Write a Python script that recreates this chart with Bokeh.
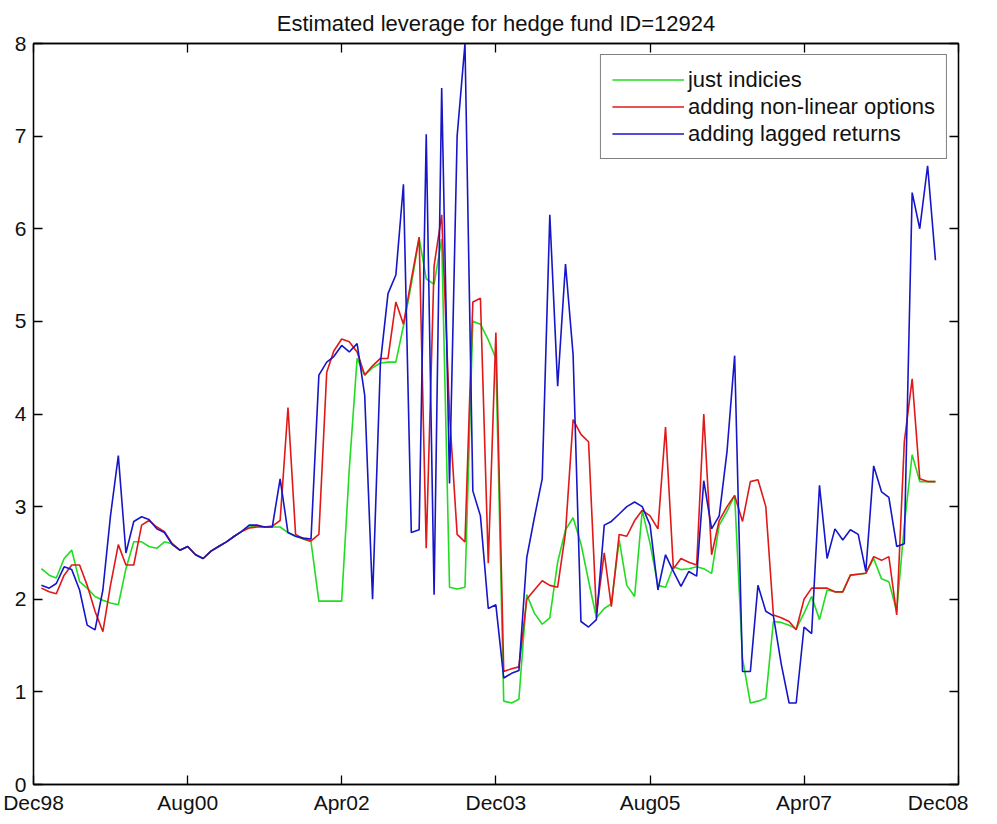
from datetime import datetime
from bokeh.plotting import figure
from bokeh.models import (Range1d, FixedTicker, DatetimeTickFormatter, DatetimeAxis,
                          LinearAxis, Legend, LegendItem, ColumnDataSource)
from bokeh.embed import file_html
from bokeh.resources import INLINE

# ---------------- data (monthly, Jan 1999 .. Sep 2008) ----------------
start_year, start_month, n_months = 1999, 1, 117
months = [datetime(start_year + (start_month - 1 + i) // 12, (start_month - 1 + i) % 12 + 1, 1)
          for i in range(n_months)]

just_indicies = [
    2.33, 2.26, 2.23, 2.44, 2.53, 2.19, 2.12, 2.03, 1.99, 1.96, 1.94, 2.33,
    2.62, 2.62, 2.57, 2.55, 2.62, 2.60, 2.53, 2.57, 2.48, 2.44, 2.52, 2.57,
    2.62, 2.68, 2.73, 2.78, 2.79, 2.78, 2.78, 2.78, 2.72, 2.68, 2.65, 2.62,
    1.98, 1.98, 1.98, 1.98, 3.40, 4.60, 4.42, 4.50, 4.55, 4.56, 4.56, 4.95,
    5.40, 5.90, 5.46, 5.40, 5.89, 2.13, 2.11, 2.13, 5.00, 4.97, 4.80, 4.60,
    0.90, 0.88, 0.92, 2.05, 1.85, 1.73, 1.80, 2.40, 2.75, 2.88, 2.60, 2.20,
    1.80, 1.90, 1.95, 2.64, 2.15, 2.03, 2.96, 2.60, 2.15, 2.13, 2.35, 2.32,
    2.33, 2.35, 2.33, 2.28, 2.80, 2.95, 3.12, 1.36, 0.88, 0.90, 0.93, 1.76,
    1.75, 1.72, 1.68, 1.85, 2.03, 1.78, 2.10, 2.08, 2.08, 2.26, 2.27, 2.28,
    2.44, 2.22, 2.19, 1.87, 2.80, 3.56, 3.27, 3.27, 3.27,
]
nonlinear_options = [
    2.12, 2.08, 2.06, 2.26, 2.37, 2.37, 2.15, 1.87, 1.65, 2.15, 2.59, 2.37,
    2.37, 2.80, 2.85, 2.78, 2.73, 2.60, 2.53, 2.57, 2.48, 2.44, 2.52, 2.57,
    2.62, 2.68, 2.73, 2.77, 2.78, 2.78, 2.79, 2.85, 4.07, 2.70, 2.65, 2.63,
    2.70, 4.45, 4.68, 4.81, 4.78, 4.67, 4.42, 4.52, 4.60, 4.60, 5.21, 4.97,
    5.45, 5.91, 2.55, 5.60, 6.15, 4.00, 2.70, 2.62, 5.21, 5.25, 2.39, 4.88,
    1.22, 1.25, 1.27, 2.00, 2.10, 2.20, 2.15, 2.13, 2.72, 3.94, 3.78, 3.70,
    1.85, 2.50, 1.92, 2.70, 2.68, 2.85, 2.96, 2.90, 2.76, 3.86, 2.33, 2.44,
    2.40, 2.37, 4.00, 2.48, 2.85, 3.00, 3.12, 2.84, 3.27, 3.29, 3.00, 1.83,
    1.80, 1.76, 1.67, 2.00, 2.12, 2.12, 2.12, 2.08, 2.08, 2.26, 2.27, 2.28,
    2.46, 2.42, 2.46, 1.83, 3.70, 4.38, 3.30, 3.27, 3.27,
]
lagged_returns = [
    2.15, 2.12, 2.17, 2.35, 2.32, 2.10, 1.72, 1.67, 2.10, 2.90, 3.55, 2.50,
    2.84, 2.89, 2.86, 2.76, 2.72, 2.59, 2.53, 2.57, 2.48, 2.44, 2.52, 2.57,
    2.62, 2.68, 2.73, 2.80, 2.80, 2.78, 2.78, 3.30, 2.72, 2.68, 2.66, 2.65,
    4.42, 4.56, 4.62, 4.74, 4.67, 4.76, 4.20, 2.00, 4.55, 5.30, 5.50, 6.48,
    2.72, 2.75, 7.02, 2.05, 7.52, 3.25, 7.00, 8.00, 3.17, 2.90, 1.90, 1.94,
    1.15, 1.20, 1.23, 2.45, 2.88, 3.30, 6.15, 4.30, 5.62, 4.64, 1.76, 1.70,
    1.78, 2.80, 2.84, 2.92, 3.00, 3.05, 3.00, 2.80, 2.10, 2.48, 2.30, 2.14,
    2.30, 2.25, 3.28, 2.76, 2.90, 3.60, 4.63, 1.22, 1.22, 2.15, 1.87, 1.82,
    1.30, 0.88, 0.88, 1.70, 1.63, 3.23, 2.44, 2.76, 2.64, 2.75, 2.70, 2.30,
    3.44, 3.16, 3.10, 2.57, 2.60, 6.39, 6.00, 6.68, 5.66,
]

series_names = ["just indicies", "adding non-linear options", "adding lagged returns"]
series_colors = ["#22dc22", "#e01818", "#1616c8"]

tick_dates = [datetime(1998, 12, 1), datetime(2000, 8, 1), datetime(2002, 4, 1),
              datetime(2003, 12, 1), datetime(2005, 8, 1), datetime(2007, 4, 1),
              datetime(2008, 12, 1)]
y_ticks = [0, 1, 2, 3, 4, 5, 6, 7, 8]

title_text = "Estimated leverage for hedge fund ID=12924"

# ---------------- figure ----------------
FONT = "Liberation Sans"
TICK_FS = "21px"
TEXT_FS = "22px"

def ms(d):
    return (d - datetime(1970, 1, 1)).total_seconds() * 1000.0

p = figure(width=968, height=816, output_backend="svg", toolbar_location=None,
           x_axis_type="datetime",
           x_range=Range1d(tick_dates[0], tick_dates[-1]),
           y_range=Range1d(0, 8),
           min_border_left=33, min_border_right=10, min_border_top=43,
           min_border_bottom=31)

p.background_fill_color = "white"
p.border_fill_color = "white"
p.outline_line_color = "black"
p.outline_line_width = 1.3
p.grid.visible = False

p.title.text = title_text
p.title.align = "center"
p.title.text_font = FONT
p.title.text_font_size = TEXT_FS
p.title.text_font_style = "normal"
p.title.text_color = "#111111"
p.title.standoff = 15

xticker = FixedTicker(ticks=[ms(d) for d in tick_dates])
yticker = FixedTicker(ticks=y_ticks)
fmt = DatetimeTickFormatter(days="%b%y", months="%b%y", years="%b%y",
                            hours="%b%y", minutes="%b%y", seconds="%b%y",
                            milliseconds="%b%y", microseconds="%b%y", hourmin="%b%y",
                            minsec="%b%y")

def style_axis(ax, show_labels=True):
    ax.axis_line_color = "black"
    ax.axis_line_width = 1.3
    ax.major_tick_line_color = "black"
    ax.major_tick_line_width = 1.3
    ax.major_tick_in = 9
    ax.major_tick_out = 0
    ax.minor_tick_line_color = None
    ax.major_label_text_font = FONT
    if show_labels:
        ax.major_label_text_font_size = TICK_FS
        ax.major_label_text_color = "#111111"
    else:
        ax.major_label_text_font_size = "1px"
        ax.major_label_text_color = None

xa = p.xaxis[0]
xa.ticker = xticker
xa.formatter = fmt
xa.major_label_standoff = 6
style_axis(xa)

ya = p.yaxis[0]
ya.ticker = yticker
ya.major_label_standoff = 7
style_axis(ya)

top_axis = DatetimeAxis(ticker=xticker, formatter=fmt, major_label_standoff=0)
style_axis(top_axis, show_labels=False)
p.add_layout(top_axis, "above")

right_axis = LinearAxis(ticker=yticker, major_label_standoff=0)
style_axis(right_axis, show_labels=False)
p.add_layout(right_axis, "right")

src = ColumnDataSource(dict(date=months, g=just_indicies, r=nonlinear_options, b=lagged_returns))
items = []
for col, name, color in zip(["g", "r", "b"], series_names, series_colors):
    r = p.line("date", col, source=src, line_color=color, line_width=1.6)
    items.append(LegendItem(label=name, renderers=[r]))

legend = Legend(items=items, location="top_right")
legend.margin = 11
legend.padding = 11
legend.spacing = 0
legend.glyph_width = 72
legend.glyph_height = 27
legend.label_height = 27
legend.label_standoff = 4
legend.label_text_font = FONT
legend.label_text_font_size = TEXT_FS
legend.label_text_color = "#111111"
legend.border_line_color = "black"
legend.border_line_width = 1.2
legend.background_fill_color = "white"
legend.background_fill_alpha = 1.0
p.add_layout(legend, "center")

open("out.html", "w").write(file_html(p, INLINE))
